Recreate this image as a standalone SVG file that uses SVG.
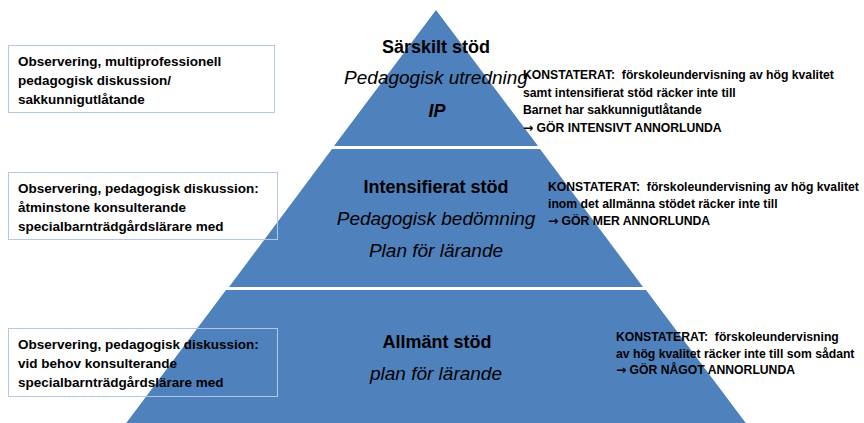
<svg xmlns="http://www.w3.org/2000/svg" width="864" height="423" viewBox="0 0 864 423">
<style>
.band{fill:#4F81BD}
.box{fill:none;stroke:#B4C7E7;stroke-width:1}
.lt{font-family:"Liberation Sans",Arial,sans-serif;font-weight:bold;font-size:13.5px;fill:#000}
.rt{font-family:"Liberation Sans",Arial,sans-serif;font-weight:bold;font-size:12.2px;fill:#000}
.ar{font-family:"DejaVu Sans",sans-serif;font-weight:bold}
.ttl{font-family:"Liberation Sans",Arial,sans-serif;font-weight:bold;font-size:18px;fill:#000;text-anchor:middle}
.sub{font-family:"Liberation Sans",Arial,sans-serif;font-style:italic;font-size:19px;fill:#000;text-anchor:middle}
</style>
<rect width="864" height="423" fill="#fff"/>
<g id="pyramid">
<polygon class="band" points="436,10 538,146 334,146"/>
<polygon class="band" points="332,149 540,149 643,287 229,287"/>
<polygon class="band" points="226,290 646,290 748,426 124,426"/>
</g>
<g id="level-sarskilt">
<text class="ttl" x="436" y="53">Särskilt stöd</text>
<text class="sub" x="436" y="84">Pedagogisk utredning</text>
<text class="ttl" x="437" y="117" font-style="italic">IP</text>
</g>
<g id="level-intensifierat">
<text class="ttl" x="436" y="193">Intensifierat stöd</text>
<text class="sub" x="436" y="225">Pedagogisk bedömning</text>
<text class="sub" x="436" y="257">Plan för lärande</text>
</g>
<g id="level-allmant">
<text class="ttl" x="437" y="348">Allmänt stöd</text>
<text class="sub" x="436" y="380">plan för lärande</text>
</g>
<g id="box-sarskilt">
<rect class="box" x="8.5" y="45.5" width="266" height="67"/>
<text class="lt" x="18" y="66">Observering, multiprofessionell</text>
<text class="lt" x="18" y="85">pedagogisk diskussion/</text>
<text class="lt" x="18" y="104">sakkunnigutlåtande</text>
</g>
<g id="box-intensifierat">
<rect class="box" x="8.5" y="172.5" width="269" height="67"/>
<text class="lt" x="18" y="193">Observering, pedagogisk diskussion:</text>
<text class="lt" x="18" y="212">åtminstone konsulterande</text>
<text class="lt" x="18" y="231">specialbarnträdgårdslärare med</text>
</g>
<g id="box-allmant">
<rect class="box" x="8.5" y="328.5" width="269" height="68"/>
<text class="lt" x="18" y="349">Observering, pedagogisk diskussion:</text>
<text class="lt" x="18" y="368">vid behov konsulterande</text>
<text class="lt" x="18" y="387">specialbarnträdgårdslärare med</text>
</g>
<g id="note-sarskilt">
<text class="rt" x="523" y="79">KONSTATERAT:&#160; förskoleundervisning av hög kvalitet</text>
<text class="rt" x="523" y="96.5">samt intensifierat stöd räcker inte till</text>
<text class="rt" x="523" y="114">Barnet har sakkunnigutlåtande</text>
<text class="rt" x="523" y="131.5"><tspan class="ar">→</tspan> GÖR INTENSIVT ANNORLUNDA</text>
</g>
<g id="note-intensifierat">
<text class="rt" x="548" y="191">KONSTATERAT:&#160; förskoleundervisning av hög kvalitet</text>
<text class="rt" x="548" y="208">inom det allmänna stödet räcker inte till</text>
<text class="rt" x="548" y="225"><tspan class="ar">→</tspan> GÖR MER ANNORLUNDA</text>
</g>
<g id="note-allmant">
<text class="rt" x="616" y="341">KONSTATERAT:&#160; förskoleundervisning</text>
<text class="rt" x="616" y="358">av hög kvalitet räcker inte till som sådant</text>
<text class="rt" x="616" y="374"><tspan class="ar">→</tspan> GÖR NÅGOT ANNORLUNDA</text>
</g>
<g id="connectors"></g>
</svg>
